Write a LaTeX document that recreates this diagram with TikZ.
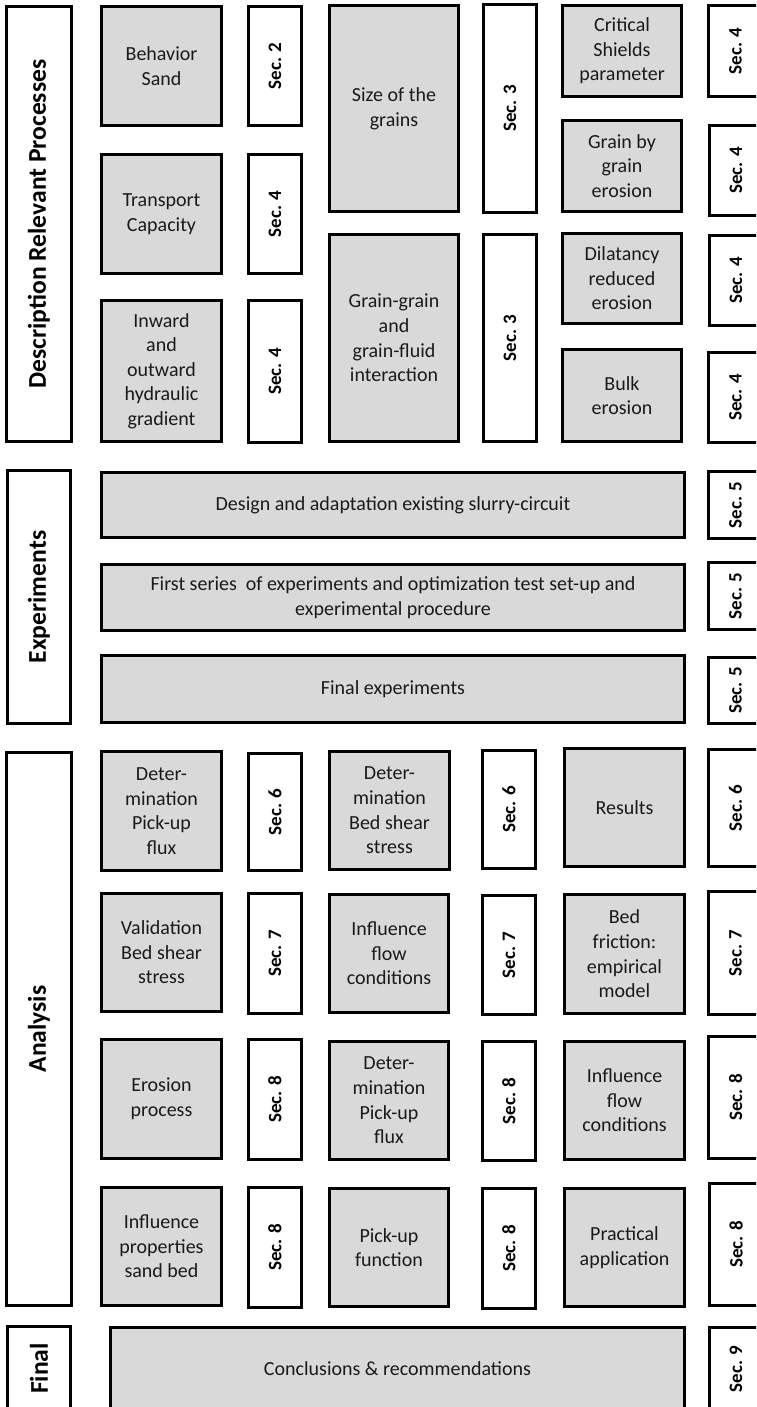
\documentclass[tikz,border=0pt]{standalone}
\usepackage{fontspec}
\setmainfont{Carlito}
\usepackage{graphicx}
\definecolor{boxgray}{HTML}{D9D9D9}
\definecolor{txt}{HTML}{1A1A1A}
\tikzset{
  gbox/.style={draw=black, line width=1.5pt, fill=boxgray, text=txt, align=center, font=\fontsize{10}{12.3}\selectfont},
  wbox/.style={draw=black, line width=1.5pt, fill=white, align=center},
}
\newcommand\bx[7]{%
  \pgfmathsetmacro\bxw{(#4-#2-3)*0.5}%
  \pgfmathsetmacro\bxh{(#5-#3-3)*0.5}%
  \node[#6, minimum width=\bxw pt, minimum height=\bxh pt, inner sep=0pt] (#1) at ({(#2+#4)/2},{(#3+#5)/2}) {#7};}
\newcommand\seclab[1]{\rotatebox{90}{\fontsize{9.5}{11}\selectfont\bfseries Sec. #1}}
\newcommand\headlab[1]{\rotatebox{90}{\fontsize{12.8}{15}\selectfont\bfseries #1}}
\begin{document}
\begin{tikzpicture}[x=0.5pt,y=-0.5pt]
\useasboundingbox (0,0) rectangle (756,1407);
\fill[white] (0,0) rectangle (756,1407);
\clip (0,0) rectangle (756,1407);
% --- Description relevant processes
\bx{desc}{5}{5}{73}{443}{wbox}{\headlab{Description Relevant Processes}}
\bx{behav}{100}{5}{223}{127}{gbox}{Behavior\\Sand}
\bx{s2}{247}{5}{303}{127}{wbox}{\seclab{2}}
\bx{transp}{100}{153}{223}{275}{gbox}{Transport\\Capacity}
\bx{s4a}{247}{153}{303}{275}{wbox}{\seclab{4}}
\bx{inward}{100}{299}{223}{443}{gbox}{Inward\\and\\outward\\hydraulic\\gradient}
\bx{s4b}{247}{299}{303}{444}{wbox}{\seclab{4}}
\bx{size}{328}{4}{460}{213}{gbox}{Size of the\\grains}
\bx{s3a}{482}{3}{538}{214}{wbox}{\seclab{3}}
\bx{graing}{328}{233}{460}{443}{gbox}{Grain-grain\\and\\grain-fluid\\interaction}
\bx{s3b}{482}{233}{538}{443}{wbox}{\seclab{3}}
\bx{crit}{561}{4}{683}{98}{gbox}{Critical\\Shields\\parameter}
\bx{s4c}{707}{4}{764}{98}{wbox}{\seclab{4}}
\bx{grainby}{561}{119}{683}{213}{gbox}{Grain by\\grain\\erosion}
\bx{s4d}{708}{124}{764}{217}{wbox}{\seclab{4}}
\bx{dila}{561}{232}{683}{325}{gbox}{Dilatancy\\reduced\\erosion}
\bx{s4e}{708}{234}{764}{327}{wbox}{\seclab{4}}
\bx{bulk}{561}{348}{683}{443}{gbox}{Bulk\\erosion}
\bx{s4f}{707}{351}{764}{444}{wbox}{\seclab{4}}
% --- Experiments
\bx{exp}{6}{469}{72}{725}{wbox}{\headlab{Experiments}}
\bx{design}{100}{471}{686}{539}{gbox}{Design and adaptation existing slurry-circuit}
\bx{s5a}{707}{470}{764}{540}{wbox}{\seclab{5}}
\bx{first}{100}{563}{686}{632}{gbox}{First series\ \ of experiments and optimization test set-up and\\experimental procedure}
\bx{s5b}{707}{561}{764}{631}{wbox}{\seclab{5}}
\bx{final}{100}{654}{686}{724}{gbox}{Final experiments}
\bx{s5c}{707}{656}{764}{725}{wbox}{\seclab{5}}
% --- Analysis
\bx{ana}{5}{751}{73}{1307}{wbox}{\headlab{Analysis}}
\bx{detpf}{100}{750}{223}{872}{gbox}{Deter-\\mination\\Pick-up\\flux}
\bx{s6a}{247}{752}{303}{872}{wbox}{\seclab{6}}
\bx{detbss}{328}{750}{451}{871}{gbox}{Deter-\\mination\\Bed shear\\stress}
\bx{s6b}{481}{749}{537}{870}{wbox}{\seclab{6}}
\bx{results}{563}{747}{686}{868}{gbox}{Results}
\bx{s6c}{707}{748}{764}{868}{wbox}{\seclab{6}}
\bx{valid}{100}{892}{223}{1013}{gbox}{Validation\\Bed shear\\stress}
\bx{s7a}{247}{892}{303}{1015}{wbox}{\seclab{7}}
\bx{inflflow}{328}{893}{450}{1014}{gbox}{Influence\\flow\\conditions}
\bx{s7b}{481}{894}{537}{1016}{wbox}{\seclab{7}}
\bx{bedfr}{563}{893}{686}{1015}{gbox}{Bed\\friction:\\empirical\\model}
\bx{s7c}{707}{890}{764}{1016}{wbox}{\seclab{7}}
\bx{eros}{100}{1038}{223}{1160}{gbox}{Erosion\\process}
\bx{s8a}{247}{1038}{303}{1161}{wbox}{\seclab{8}}
\bx{detpfb}{328}{1040}{450}{1161}{gbox}{Deter-\\mination\\Pick-up\\flux}
\bx{s8b}{481}{1040}{537}{1162}{wbox}{\seclab{8}}
\bx{inflflowb}{563}{1040}{686}{1161}{gbox}{Influence\\flow\\conditions}
\bx{s8c}{707}{1035}{764}{1160}{wbox}{\seclab{8}}
\bx{inflprop}{100}{1186}{223}{1307}{gbox}{Influence\\properties\\sand bed}
\bx{s8d}{247}{1186}{303}{1309}{wbox}{\seclab{8}}
\bx{pickup}{328}{1187}{450}{1308}{gbox}{Pick-up\\function}
\bx{s8e}{481}{1187}{537}{1310}{wbox}{\seclab{8}}
\bx{practical}{563}{1187}{686}{1308}{gbox}{Practical\\application}
\bx{s8f}{708}{1182}{764}{1307}{wbox}{\seclab{8}}
% --- Final
\bx{fin}{6}{1325}{72}{1412}{wbox}{\headlab{Final}}
\bx{concl}{109}{1326}{686}{1412}{gbox}{Conclusions \& recommendations}
\bx{s9}{708}{1326}{764}{1412}{wbox}{\seclab{9}}
\end{tikzpicture}
\end{document}
